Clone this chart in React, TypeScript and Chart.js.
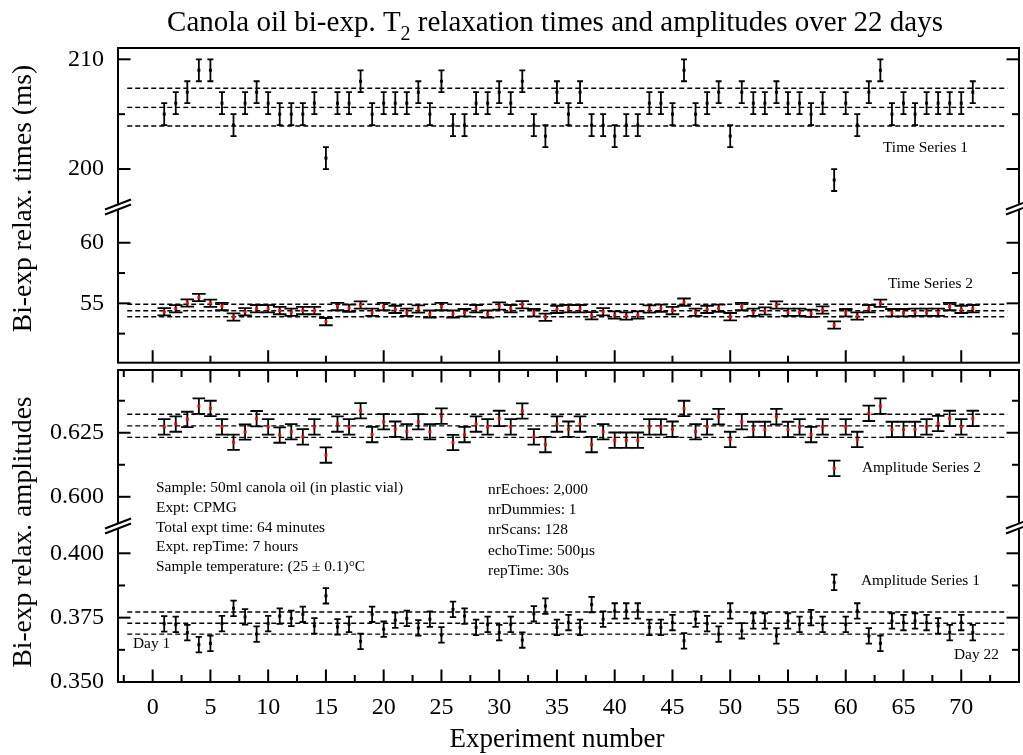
import React, { useEffect, useRef } from "react";
import { Chart, registerables } from "chart.js";

Chart.register(...registerables);

const FONT = "'Liberation Serif', 'Times New Roman', Times, serif";

// ---------------- data ----------------
const experiments = [
  1, 2, 3, 4, 5, 6, 7, 8, 9, 10, 11, 12, 13, 14, 15, 16, 17, 18, 19, 20,
  21, 22, 23, 24, 25, 26, 27, 28, 29, 30, 31, 32, 33, 34, 35, 36, 37, 38, 39, 40,
  41, 42, 43, 44, 45, 46, 47, 48, 49, 50, 51, 52, 53, 54, 55, 56, 57, 58, 59, 60,
  61, 62, 63, 64, 65, 66, 67, 68, 69, 70, 71,
];

const timeSeries1 = [
  205, 206, 207, 209, 209, 206, 204, 206, 207, 206,
  205, 205, 205, 206, 201, 206, 206, 208, 205, 206,
  206, 206, 207, 205, 208, 204, 204, 206, 206, 207,
  206, 208, 204, 203, 207, 205, 207, 204, 204, 203,
  204, 204, 206, 206, 205, 209, 205, 206, 207, 203,
  207, 206, 206, 207, 206, 206, 205, 206, 199, 206,
  204, 207, 209, 205, 206, 205, 206, 206, 206, 206, 207,
];

const timeSeries2 = [
  54.31, 54.55, 55.02, 55.48, 55.0, 54.73, 53.87, 54.3, 54.56, 54.55,
  54.4, 54.26, 54.4, 54.4, 53.49, 54.73, 54.59, 54.86, 54.26, 54.73,
  54.5, 54.26, 54.53, 54.12, 54.73, 54.12, 54.23, 54.56, 54.12, 54.78,
  54.56, 54.89, 54.23, 53.85, 54.5, 54.56, 54.56, 53.98, 54.31, 54.04,
  53.96, 54.04, 54.53, 54.59, 54.4, 55.1, 54.26, 54.5, 54.59, 53.9,
  54.73, 54.26, 54.37, 54.86, 54.26, 54.26, 54.18, 54.45, 53.21, 54.23,
  53.96, 54.56, 55.0, 54.23, 54.23, 54.26, 54.26, 54.26, 54.73, 54.5, 54.56,
];

const ampSeries2 = [
  0.6273, 0.6284, 0.6302, 0.6354, 0.6345, 0.6273, 0.6213, 0.6253, 0.6305, 0.6273,
  0.6241, 0.6254, 0.6234, 0.6273, 0.6163, 0.6284, 0.6273, 0.6336, 0.6243, 0.6293,
  0.6264, 0.6254, 0.6293, 0.6254, 0.6315, 0.6212, 0.6243, 0.6284, 0.6273, 0.6306,
  0.6273, 0.6335, 0.6234, 0.6204, 0.6284, 0.6264, 0.6284, 0.6204, 0.6254, 0.6221,
  0.6221, 0.6221, 0.6273, 0.6273, 0.6264, 0.6345, 0.6254, 0.6273, 0.6313, 0.6224,
  0.6293, 0.6263, 0.6263, 0.6313, 0.6263, 0.6273, 0.6243, 0.6273, 0.6111, 0.6273,
  0.6224, 0.6326, 0.6354, 0.6263, 0.6263, 0.6263, 0.6273, 0.6286, 0.6306, 0.6273, 0.6306,
];

const ampSeries1 = [
  0.3726, 0.3724, 0.3692, 0.3645, 0.365, 0.3727, 0.3786, 0.3753, 0.3686, 0.3727,
  0.3756, 0.3747, 0.3763, 0.3718, 0.3835, 0.3714, 0.3724, 0.3658, 0.3763, 0.3705,
  0.374, 0.3747, 0.371, 0.3744, 0.3683, 0.3782, 0.3756, 0.3712, 0.3724, 0.3692,
  0.3724, 0.3663, 0.3765, 0.3795, 0.3712, 0.3731, 0.3712, 0.3801, 0.3744, 0.3776,
  0.3776, 0.3776, 0.3712, 0.3712, 0.3731, 0.366, 0.3744, 0.3727, 0.3686, 0.3776,
  0.3699, 0.3737, 0.3737, 0.3679, 0.3737, 0.3724, 0.375, 0.3724, 0.3887, 0.3724,
  0.3776, 0.3679, 0.365, 0.3737, 0.3731, 0.3737, 0.3731, 0.3718, 0.3692, 0.3731, 0.3692,
];

const time1Err = 1;
const time2Err = 0.3;
const amp2Err = 0.003;
const amp1Err = 0.003;

// mean - sd, mean, mean + sd
const time1Bands = [203.92, 205.62, 207.36];
const time2Bands = [53.89, 54.39, 54.92];
const amp2Bands = [0.6232, 0.6277, 0.6322];
const amp1Bands = [0.3686, 0.3728, 0.3772];
const bandStartX = -2.2;
const bandEndX = 74;

// ticks
const xTickLabels = [0, 5, 10, 15, 20, 25, 30, 35, 40, 45, 50, 55, 60, 65, 70];
const xMinorBottom = [-2.5, 2.5, 7.5, 12.5, 17.5, 22.5, 27.5, 32.5, 37.5, 42.5, 47.5, 52.5, 57.5, 62.5, 67.5, 72.5];
const xMajorTopPanel = [0, 10, 20, 30, 40, 50, 60, 70];
const xMinorTopPanel = [5, 15, 25, 35, 45, 55, 65];

const yT1Labels = [200, 210];
const yT1Minor = [205];
const yT2Labels = [55, 60];
const yT2Minor = [52.5, 57.5];
const yA2Labels = [0.6, 0.625];
const yA2Minor = [0.6125, 0.6375];
const yA1Labels = [0.35, 0.375, 0.4];
const yA1Minor = [0.3625, 0.3875];

const titleMain = "Canola oil bi-exp. T";
const titleSub = "2";
const titleRest = " relaxation times and amplitudes over 22 days";
const xTitle = "Experiment number";
const yTitleTop = "Bi-exp relax. times (ms)";
const yTitleBottom = "Bi-exp relax. amplitudes";

const infoLeft = [
  "Sample: 50ml canola oil (in plastic vial)",
  "Expt: CPMG",
  "Total expt time: 64 minutes",
  "Expt. repTime: 7 hours",
  "Sample temperature: (25 \u00b1 0.1)\u00b0C",
];
const infoRight = [
  "nrEchoes: 2,000",
  "nrDummies: 1",
  "nrScans: 128",
  "echoTime: 500\u00b5s",
  "repTime: 30s",
];

// ---------------- helpers ----------------
const pts = (ys: number[]) => experiments.map((x, i) => ({ x, y: ys[i] }));
const band = (v: number) => [
  { x: bandStartX, y: v },
  { x: bandEndX, y: v },
];

function bandSets(vals: number[], axis: string) {
  return vals.map((v) => ({
    type: "line" as const,
    data: band(v),
    yAxisID: axis,
    borderColor: "#000",
    borderWidth: 1.4,
    borderDash: [5, 3],
    pointRadius: 0,
    showLine: true,
    fill: false,
  }));
}

const decorPlugin = {
  id: "decor",
  beforeDatasetDraw(chart: any, args: any) {
    const ds = chart.data.datasets[args.index];
    if (!ds.errorBar) return;
    const ys = chart.scales[ds.yAxisID];
    const ctx = chart.ctx;
    ctx.save();
    ctx.strokeStyle = "#000";
    ctx.lineWidth = 1.8;
    args.meta.data.forEach((pt: any, i: number) => {
      const v = ds.data[i].y;
      const x = pt.x;
      const y1 = ys.getPixelForValue(v + ds.errorBar);
      const y2 = ys.getPixelForValue(v - ds.errorBar);
      const h = ds.capHalf;
      ctx.beginPath();
      ctx.moveTo(x, y1);
      ctx.lineTo(x, y2);
      ctx.moveTo(x - h, y1);
      ctx.lineTo(x + h, y1);
      ctx.moveTo(x - h, y2);
      ctx.lineTo(x + h, y2);
      ctx.stroke();
    });
    ctx.restore();
  },
  afterDraw(chart: any) {
    const ctx = chart.ctx;
    const ca = chart.chartArea;
    const sx = chart.scales.x;
    const sT1 = chart.scales.yT1;
    const sT2 = chart.scales.yT2;
    const sA2 = chart.scales.yA2;
    const sA1 = chart.scales.yA1;
    const L = ca.left;
    const R = ca.right;
    const tTop = sT1.top;
    const tBot = sT2.bottom;
    const aTop = sA2.top;
    const aBot = sA1.bottom;
    ctx.save();
    ctx.strokeStyle = "#000";
    ctx.lineWidth = 2;
    ctx.lineCap = "butt";
    ctx.strokeRect(L, tTop, R - L, tBot - tTop);
    ctx.strokeRect(L, aTop, R - L, aBot - aTop);

    const line = (x1: number, y1: number, x2: number, y2: number) => {
      ctx.beginPath();
      ctx.moveTo(x1, y1);
      ctx.lineTo(x2, y2);
      ctx.stroke();
    };
    const MAJ = 12.5;
    const MIN = 7;
    // y ticks both sides
    const yTicks = (s: any, major: number[], minor: number[]) => {
      major.forEach((v) => {
        const y = s.getPixelForValue(v);
        line(L, y, L + MAJ, y);
        line(R, y, R - MAJ, y);
      });
      minor.forEach((v) => {
        const y = s.getPixelForValue(v);
        line(L, y, L + MIN, y);
        line(R, y, R - MIN, y);
      });
    };
    yTicks(sT1, yT1Labels, yT1Minor);
    yTicks(sT2, yT2Labels, yT2Minor);
    yTicks(sA2, yA2Labels, yA2Minor);
    yTicks(sA1, yA1Labels, yA1Minor);

    // x ticks
    xTickLabels.forEach((v) => {
      const x = sx.getPixelForValue(v);
      line(x, aBot, x, aBot - MAJ);
      line(x, aTop, x, aTop + MAJ);
    });
    xMinorBottom.forEach((v) => {
      const x = sx.getPixelForValue(v);
      line(x, aBot, x, aBot - MIN);
      line(x, aTop, x, aTop + MIN);
    });
    xMajorTopPanel.forEach((v) => {
      const x = sx.getPixelForValue(v);
      line(x, tBot, x, tBot - MAJ);
    });
    xMinorTopPanel.forEach((v) => {
      const x = sx.getPixelForValue(v);
      line(x, tBot, x, tBot - MIN);
    });

    // axis breaks
    const brk = (xb: number, yb: number) => {
      const dx = 13;
      const dy = 5;
      const g = 5;
      ctx.fillStyle = "#fff";
      ctx.beginPath();
      ctx.moveTo(xb - dx, yb - g / 2 + dy);
      ctx.lineTo(xb + dx, yb - g / 2 - dy);
      ctx.lineTo(xb + dx, yb + g / 2 - dy);
      ctx.lineTo(xb - dx, yb + g / 2 + dy);
      ctx.closePath();
      ctx.fill();
      line(xb - dx, yb - g / 2 + dy, xb + dx, yb - g / 2 - dy);
      line(xb - dx, yb + g / 2 + dy, xb + dx, yb + g / 2 - dy);
    };
    brk(L, sT1.bottom);
    brk(R, sT1.bottom);
    brk(L, sA2.bottom);
    brk(R, sA2.bottom);

    // texts
    ctx.fillStyle = "#000";
    // title
    ctx.textBaseline = "alphabetic";
    ctx.textAlign = "left";
    ctx.font = `29px ${FONT}`;
    const w1 = ctx.measureText(titleMain).width;
    const w3 = ctx.measureText(titleRest).width;
    ctx.font = `20px ${FONT}`;
    const w2 = ctx.measureText(titleSub).width;
    const total = w1 + w2 + w3;
    let tx = 555 - total / 2;
    ctx.font = `29px ${FONT}`;
    ctx.fillText(titleMain, tx, 31);
    tx += w1;
    ctx.font = `20px ${FONT}`;
    ctx.fillText(titleSub, tx, 40);
    tx += w2;
    ctx.font = `29px ${FONT}`;
    ctx.fillText(titleRest, tx, 31);

    // x title
    ctx.font = `27px ${FONT}`;
    ctx.textAlign = "center";
    ctx.fillText(xTitle, 557, 747);

    // y titles
    ctx.font = `27.5px ${FONT}`;
    const vText = (t: string, x: number, y: number) => {
      ctx.save();
      ctx.translate(x, y);
      ctx.rotate(-Math.PI / 2);
      ctx.textAlign = "center";
      ctx.textBaseline = "alphabetic";
      ctx.fillText(t, 0, 0);
      ctx.restore();
    };
    vText(yTitleTop, 31, 198.5);
    vText(yTitleBottom, 31, 532);

    // annotations
    ctx.font = `15.4px ${FONT}`;
    ctx.textAlign = "left";
    ctx.textBaseline = "middle";
    infoLeft.forEach((t, i) => ctx.fillText(t, 156, 488 + i * 19.8));
    infoRight.forEach((t, i) => ctx.fillText(t, 488, 490 + i * 20.2));
    ctx.fillText("Time Series 1", 883, 148);
    ctx.fillText("Time Series 2", 888, 284);
    ctx.fillText("Amplitude Series 2", 862, 468);
    ctx.fillText("Amplitude Series 1", 861, 581);
    ctx.fillText("Day 1", 133, 644);
    ctx.fillText("Day 22", 954, 655);
    ctx.restore();
  },
};

const yCommon = (labels: number[], fmt: (v: number) => string) => ({
  type: "linear" as const,
  position: "left" as const,
  stack: "v",
  grid: { display: false, drawTicks: false },
  border: { display: false },
  ticks: {
    font: { family: FONT, size: 24 },
    color: "#000",
    padding: 14,
    callback: (v: any) => fmt(Number(v)),
  },
  afterBuildTicks: (s: any) => {
    s.ticks = labels.map((v) => ({ value: v }));
  },
  afterFit: (s: any) => {
    s.width = 118;
  },
});

export default function App() {
  const ref = useRef<HTMLCanvasElement>(null);
  useEffect(() => {
    if (!ref.current) return;
    const scatter = (
      ys: number[],
      axis: string,
      err: number,
      capHalf: number,
      color: string
    ) => ({
      type: "scatter" as const,
      data: pts(ys),
      yAxisID: axis,
      pointStyle: "rect",
      pointRadius: 2.1,
      pointBackgroundColor: color,
      pointBorderColor: color,
      pointBorderWidth: 0,
      showLine: false,
      errorBar: err,
      capHalf,
    });
    const chart = new Chart(ref.current, {
      type: "scatter",
      data: {
        datasets: [
          scatter(timeSeries1, "yT1", time1Err, 3, "#000"),
          scatter(timeSeries2, "yT2", time2Err, 6.8, "#ff0000"),
          scatter(ampSeries2, "yA2", amp2Err, 6.3, "#ff0000"),
          scatter(ampSeries1, "yA1", amp1Err, 3.2, "#000"),
          ...bandSets(time1Bands, "yT1"),
          ...bandSets(time2Bands, "yT2"),
          ...bandSets(amp2Bands, "yA2"),
          ...bandSets(amp1Bands, "yA1"),
        ] as any,
      },
      options: {
        animation: false,
        responsive: false,
        devicePixelRatio: 1,
        events: [],
        layout: { padding: { top: 48, right: 4, left: 0, bottom: 0 } },
        plugins: {
          legend: { display: false },
          tooltip: { enabled: false },
          title: { display: false },
        },
        scales: {
          x: {
            type: "linear",
            position: "bottom",
            min: -3,
            max: 75,
            grid: { display: false, drawTicks: false },
            border: { display: false },
            ticks: {
              font: { family: FONT, size: 24 },
              color: "#000",
              padding: 11,
              maxRotation: 0,
              autoSkip: false,
            },
            afterBuildTicks: (s: any) => {
              s.ticks = xTickLabels.map((v) => ({ value: v }));
            },
            afterFit: (s: any) => {
              s.height = 73;
            },
          },
          yT1: { ...yCommon(yT1Labels, (v) => String(v)), min: 196.54, max: 211.03, stackWeight: 159, weight: 5 },
          yT2: { ...yCommon(yT2Labels, (v) => String(v)), min: 50.1, max: 62.95, stackWeight: 155.7, weight: 4 },
          yGap: {
            ...yCommon([], (v) => ""),
            ticks: { display: false },
            min: 0,
            max: 1,
            stackWeight: 7.3,
            weight: 3,
          },
          yA2: { ...yCommon(yA2Labels, (v) => v.toFixed(3)), min: 0.5886, max: 0.6495, stackWeight: 156, weight: 2 },
          yA1: { ...yCommon(yA1Labels, (v) => v.toFixed(3)), min: 0.35, max: 0.4106, stackWeight: 156, weight: 1 },
        } as any,
      },
      plugins: [decorPlugin],
    } as any);
    return () => chart.destroy();
  }, []);
  return (
    <div style={{ position: "absolute", left: 0, top: 0, width: 1023, height: 755, background: "#fff" }}>
      <canvas ref={ref} width={1023} height={755} style={{ display: "block", width: 1023, height: 755 }} />
    </div>
  );
}
